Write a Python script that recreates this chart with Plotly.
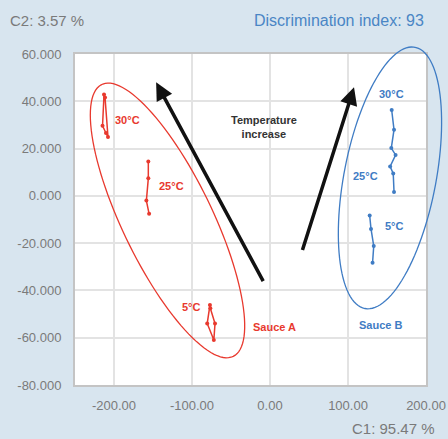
import numpy as np
import plotly.graph_objects as go

# ---- data ----
a30_x = [-212.8, -214.7, -210.3, -207.7, -211.5]
a30_y = [42.9, 29.6, 26.6, 24.9, 41.6]
a25_x = [-156, -156, -158.5, -155]
a25_y = [14.5, 7.4, -2, -7.6]
a5_x = [-77, -80.5, -72, -70.5, -76.5]
a5_y = [-46.2, -54, -61, -54, -47.5]

b3025_x = [156, 159, 155.5, 161, 154, 158, 159]
b3025_y = [36.3, 28, 20.2, 17.3, 12.4, 9.5, 1.6]
b5_x = [127.8, 129.5, 133, 131.5]
b5_y = [-8.3, -14, -21.2, -28.3]

x_ticks = [-200, -100, 0, 100, 200]
x_tick_labels = ["-200.00", "-100.00", "0.00", "100.00", "200.00"]
y_ticks = [60, 40, 20, 0, -20, -40, -60, -80]
y_tick_labels = ["60.000", "40.000", "20.000", "0.000", "-20.000", "-40.000", "-60.000", "-80.000"]

XR = [-250, 200]
YR = [-80, 60]
RED = "#e8392e"
BLUE = "#3f7cc4"

fig = go.Figure()
for xs, ys in [(a30_x, a30_y), (a25_x, a25_y), (a5_x, a5_y)]:
    fig.add_trace(go.Scatter(x=xs, y=ys, mode="lines+markers",
                             line=dict(color=RED, width=1.5),
                             marker=dict(color=RED, size=4), showlegend=False))
for xs, ys in [(b3025_x, b3025_y), (b5_x, b5_y)]:
    fig.add_trace(go.Scatter(x=xs, y=ys, mode="lines+markers",
                             line=dict(color=BLUE, width=1.5),
                             marker=dict(color=BLUE, size=4), showlegend=False))

# ellipses in paper coords (not clipped)
W, H = 351.0, 331.0
def ellipse_path(cx, cy, a, b, ux, uy):
    px = (cx - XR[0]) / (XR[1] - XR[0])
    py = (cy - YR[0]) / (YR[1] - YR[0])
    n = np.hypot(ux, uy); ux, uy = ux / n, uy / n
    vx, vy = uy, -ux
    t = np.linspace(0, 2 * np.pi, 120)
    dx = a * np.cos(t) * ux + b * np.sin(t) * vx
    dy = a * np.cos(t) * uy + b * np.sin(t) * vy
    xs = px + dx / W
    ys = py - dy / H
    return "M " + " L ".join(f"{x:.5f},{y:.5f}" for x, y in zip(xs, ys)) + " Z"

fig.add_shape(type="path", xref="paper", yref="paper",
              path=ellipse_path(-131.4, -10.4, 151, 45, 0.435, 0.900),
              line=dict(color=RED, width=1.3))
fig.add_shape(type="path", xref="paper", yref="paper",
              path=ellipse_path(153.8, 7.6, 133, 46, -0.188, 0.982),
              line=dict(color=BLUE, width=1.3))

# arrows
for (tx, ty, hx, hy) in [(-7.7, -36.7, -146, 48), (41, -23.5, 107.7, 45.9)]:
    fig.add_annotation(x=hx, y=hy, ax=tx, ay=ty, xref="x", yref="y",
                       axref="x", ayref="y", showarrow=True, text="",
                       arrowhead=2, arrowsize=1.0, arrowwidth=3.5, arrowcolor="#111111")

lab_font = dict(family="Liberation Sans, Arial", size=11)
labels = [
    ("30°C", -183, 32, RED), ("25°C", -126, 4, RED), ("5°C", -101, -47, RED),
    ("Sauce A", 6, -55.6, RED),
    ("30°C", 156, 43, BLUE), ("25°C", 123, 8.6, BLUE), ("5°C", 160, -12.8, BLUE),
    ("Sauce B", 142, -54.7, BLUE),
]
for t, x, y, c in labels:
    fig.add_annotation(x=x, y=y, xref="x", yref="y", text=f"<b>{t}</b>", showarrow=False,
                       font=dict(color=c, **lab_font))
fig.add_annotation(x=-7.7, y=29, xref="x", yref="y", text="<b>Temperature<br>increase</b>",
                   showarrow=False, font=dict(color="#333333", family="Liberation Sans, Arial", size=11))

fig.add_annotation(x=-0.19, y=1.1, xref="paper", yref="paper", xanchor="left", yanchor="middle",
                   text="C2: 3.57 %", showarrow=False,
                   font=dict(color="#7a7a7a", family="Liberation Sans, Arial", size=15))
fig.add_annotation(x=1.0, y=1.1, xref="paper", yref="paper", xanchor="right", yanchor="middle",
                   text="Discrimination index: 93", showarrow=False,
                   font=dict(color="#4a86c5", family="Liberation Sans, Arial", size=16))
fig.add_annotation(x=1.03, y=-0.13, xref="paper", yref="paper", xanchor="right", yanchor="middle",
                   text="C1: 95.47 %", showarrow=False,
                   font=dict(color="#7a7a7a", family="Liberation Sans, Arial", size=15))

axis_common = dict(showgrid=True, gridcolor="#e3e3e3", gridwidth=1.5, zeroline=False,
                   showline=True, linecolor="#c4c4c4", linewidth=2, mirror=True,
                   tickfont=dict(color="#7a7a7a", family="Liberation Sans, Arial", size=13),
                   ticks="", automargin=False)
fig.update_xaxes(range=XR, tickvals=x_ticks, ticktext=x_tick_labels,
                 ticklabelstandoff=7, **axis_common)
fig.update_yaxes(range=YR, tickvals=y_ticks, ticktext=y_tick_labels,
                 ticklabelstandoff=9, **axis_common)

fig.update_layout(width=448, height=439, margin=dict(l=75, r=22, t=54, b=54),
                  paper_bgcolor="#d8e5ef", plot_bgcolor="white",
                  showlegend=False)
fig.write_html("out.html", config={"displayModeBar": False},
               post_script="document.body.style.margin='0';")
